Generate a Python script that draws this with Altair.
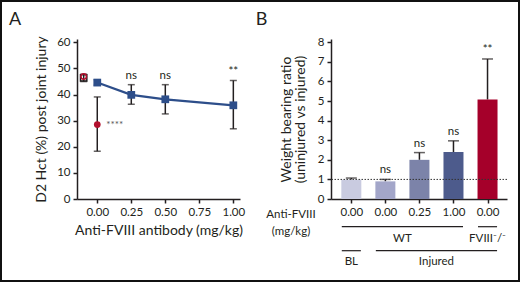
import altair as alt
import pandas as pd

# ---------------- Panel A data ----------------
a_dose = [0.0, 0.25, 0.50, 1.00]
a_hct = [44.6, 39.9, 38.2, 35.9]
a_lo = [43.6, 36.3, 32.6, 26.9]
a_hi = [45.7, 43.8, 43.8, 45.4]
a_ann = ["", "ns", "ns", "**"]

fviii_dose = [0.0]
fviii_hct = [28.5]
fviii_lo = [18.3]
fviii_hi = [39.1]
fviii_ann = ["****"]

base_dose = [-0.1]
base_wt_hct = [46.4]
base_wt_lo = [45.0]
base_wt_hi = [47.8]
base_fviii_hct = [46.9]

# ---------------- Panel B data ----------------
b_idx = [0, 1, 2, 3, 4]
b_dose_labels = ["0.00", "0.00", "0.25", "1.00", "0.00"]
b_ratio = [0.99, 0.90, 2.00, 2.40, 5.08]
b_hi = [1.07, 1.00, 2.37, 2.97, 7.15]
b_colors = ["#c9cbe0", "#a3a6c9", "#7c83a9", "#4d5b8c", "#a5002a"]
b_ann = ["", "ns", "ns", "ns", "**"]
row1_groups = ["WT", "FVIII\u207b/\u207b"]
row1_first = [0, 4]
row1_last = [3, 4]
row2_groups = ["BL", "Injured"]
row2_first = [0, 1]
row2_last = [0, 4]

FONT = "Lato"
BLUE = "#2d4e8a"
RED = "#b3102e"
INK = "#231f20"

# ================= Panel A =================
WA, HA = 163, 160
xs = alt.Scale(domain=[-0.149, 1.049], nice=False, zero=False)
ys = alt.Scale(domain=[0, 61.3], nice=False)
xaxA = alt.Axis(values=[0, 0.25, 0.5, 0.75, 1.0], format=".2f",
                title="Anti-FVIII antibody (mg/kg)", titlePadding=6)
yaxA = alt.Axis(values=[0, 10, 20, 30, 40, 50, 60],
                title="D2 Hct (%) post joint injury", titlePadding=8)


def XA(f):
    return alt.X(f"{f}:Q", scale=xs, axis=xaxA)


def YA(f):
    return alt.Y(f"{f}:Q", scale=ys, axis=yaxA)


dfA = pd.DataFrame({"x": a_dose, "y": a_hct, "lo": a_lo, "hi": a_hi, "ann": a_ann})
dfR = pd.DataFrame({"x": fviii_dose, "y": fviii_hct, "lo": fviii_lo, "hi": fviii_hi, "ann": fviii_ann})
dfBW = pd.DataFrame({"x": base_dose, "y": base_wt_hct, "lo": base_wt_lo, "hi": base_wt_hi})
dfBR = pd.DataFrame({"x": base_dose, "y": base_fviii_hct})

layersA = []
for df, col in [(dfA, INK), (dfR, INK), (dfBW, INK)]:
    b = alt.Chart(df)
    layersA.append(b.mark_rule(color=col, strokeWidth=1.5).encode(
        x=XA("x"), y=YA("lo"), y2="hi"))
    for f in ["lo", "hi"]:
        layersA.append(b.mark_tick(orient="horizontal", size=7, thickness=1.5, color=col).encode(
            x=XA("x"), y=YA(f)))

layersA.append(alt.Chart(dfA).mark_line(color=BLUE, strokeWidth=2.2).encode(x=XA("x"), y=YA("y")))
layersA.append(alt.Chart(dfA).mark_point(shape="square", filled=True, size=60, color=BLUE, opacity=1).encode(
    x=XA("x"), y=YA("y")))
layersA.append(alt.Chart(dfR).mark_circle(size=45, color=RED, opacity=1).encode(x=XA("x"), y=YA("y")))
layersA.append(alt.Chart(dfBW).mark_point(shape="square", filled=False, size=40, color=INK,
                                          strokeWidth=1.5, opacity=1).encode(x=XA("x"), y=YA("y")))
layersA.append(alt.Chart(dfBR).mark_point(shape="circle", filled=False, size=30, color=RED,
                                          strokeWidth=1.5, opacity=1).encode(x=XA("x"), y=YA("y")))
layersA.append(alt.Chart(dfA).mark_text(font=FONT, fontSize=11.5, color=INK, dy=-9, baseline="middle").encode(
    x=XA("x"), y=YA("hi"), text="ann:N"))
layersA.append(alt.Chart(dfR).mark_text(font=FONT, fontSize=10, color="#555555", align="left", dx=9,
                                        baseline="middle").encode(x=XA("x"), y=YA("y"), text="ann:N"))
# frame around whole figure and panel letter
layersA.append(alt.Chart(pd.DataFrame({"t": ["A"]})).mark_rect(fill="transparent", stroke="#111111",
                                                               strokeWidth=2).encode(
    x=alt.value(-76), x2=alt.value(442), y=alt.value(-38), y2=alt.value(242)))
layersA.append(alt.Chart(pd.DataFrame({"t": ["A"]})).mark_text(font=FONT, fontSize=18, color=INK,
                                                               baseline="middle").encode(
    x=alt.value(-62), y=alt.value(-19), text="t:N"))

panelA = alt.layer(*layersA).properties(width=WA, height=HA)

# ================= Panel B =================
WB, HB = 176, 160
bxs = alt.Scale(domain=[-0.45, 4.425], nice=False, zero=False)
bys = alt.Scale(domain=[0, 8.17], nice=False)
lab_expr = "[" + ",".join(f"'{s}'" for s in b_dose_labels) + "][datum.value]"
xaxB = alt.Axis(values=b_idx, labelExpr=lab_expr, title=None)
yaxB = alt.Axis(values=list(range(0, 9)), title=["Weight bearing ratio", "(uninjured vs injured)"],
                titlePadding=9.5, titleLineHeight=14)


def XB(f):
    return alt.X(f"{f}:Q", scale=bxs, axis=xaxB)


def YB(f):
    return alt.Y(f"{f}:Q", scale=bys, axis=yaxB)


dfB = pd.DataFrame({"i": b_idx, "v": b_ratio, "hi": b_hi, "ann": b_ann, "c": [str(i) for i in b_idx]})
HALF = 0.28  # half bar width in index units (20 px)

layersB = []
layersB.append(alt.Chart(dfB).mark_rule(color=INK, strokeWidth=1.5).encode(x=XB("i"), y=YB("v"), y2="hi"))
layersB.append(alt.Chart(dfB).mark_tick(orient="horizontal", size=11, thickness=1.5, color=INK).encode(
    x=XB("i"), y=YB("hi")))
layersB.append(alt.Chart(dfB).mark_bar(size=20).encode(
    x=XB("i"), y=YB("v"),
    color=alt.Color("c:N", scale=alt.Scale(domain=[str(i) for i in b_idx], range=b_colors), legend=None)))
layersB.append(alt.Chart(pd.DataFrame({"ref": [1]})).mark_rule(color="#333333", strokeWidth=1,
                                                              strokeDash=[1.5, 1.5]).encode(y=YB("ref")))
layersB.append(alt.Chart(dfB).mark_text(font=FONT, fontSize=11.5, color=INK, dy=-9, baseline="middle").encode(
    x=XB("i"), y=YB("hi"), text="ann:N"))

rows = pd.DataFrame({
    "g": row1_groups + row2_groups,
    "x0": [i - HALF for i in row1_first + row2_first],
    "x1": [i + HALF for i in row1_last + row2_last],
    "row": [1] * len(row1_groups) + [2] * len(row2_groups),
})
rows["xm"] = (rows["x0"] + rows["x1"]) / 2
for r, ly, ty in [(1, 187.7, 200), (2, 211.7, 223)]:
    sub = rows[rows["row"] == r]
    layersB.append(alt.Chart(sub).mark_rule(color=INK, strokeWidth=1.2).encode(
        x=XB("x0"), x2="x1", y=alt.value(ly)))
    layersB.append(alt.Chart(sub).mark_text(font=FONT, fontSize=11.5, color=INK, baseline="middle").encode(
        x=XB("xm"), y=alt.value(ty), text="g:N"))

hdr = pd.DataFrame({"t": ["Anti-FVIII", "(mg/kg)"], "py": [176, 193]})
layersB.append(alt.Chart(hdr).mark_text(font=FONT, fontSize=11.5, color=INK, baseline="middle").encode(
    x=alt.value(-40), y=alt.Y("py:Q", scale=None), text="t:N"))
layersB.append(alt.Chart(pd.DataFrame({"t": ["B"]})).mark_text(font=FONT, fontSize=18, color=INK,
                                                               baseline="middle").encode(
    x=alt.value(-69.5), y=alt.value(-19), text="t:N"))

panelB = alt.layer(*layersB).properties(width=WB, height=HB)

chart = alt.hconcat(panelA, panelB, spacing=91, bounds="flush").properties(
    padding=0, background="white"
).configure_view(stroke=None).configure_axis(
    grid=False, domainColor=INK, domainWidth=1.5, tickColor=INK, tickWidth=1.5, tickSize=4,
    labelFont=FONT, labelFontSize=11.5, labelColor=INK, labelPadding=3,
    titleFont=FONT, titleFontSize=14, titleFontWeight="normal", titleColor=INK,
)

chart.save("out.html", embed_options={"renderer": "svg", "actions": False})
